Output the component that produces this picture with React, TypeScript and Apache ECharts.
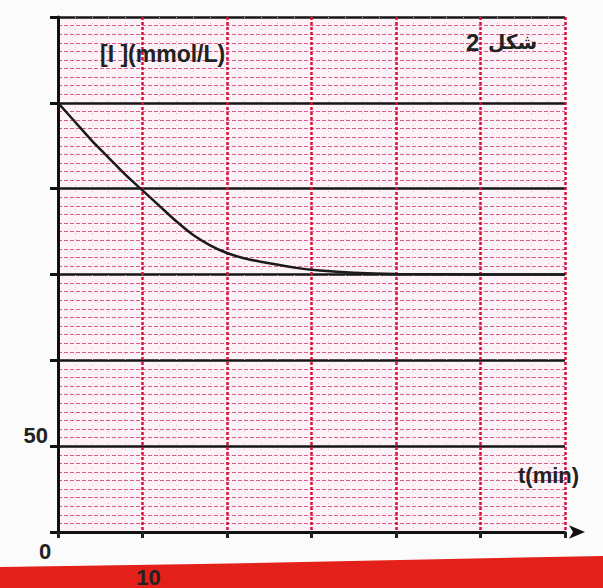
import React, { useEffect, useRef } from "react";
import * as echarts from "echarts";

const times = [0, 2, 4, 6, 8, 10, 12, 14, 16, 18, 20, 22, 25, 28, 31, 35, 40, 50, 60];
const conc = [250, 239, 228, 218, 208, 199, 190, 181, 173, 167, 162.5, 159.5, 156.5, 154, 152.3, 151, 150.3, 150, 150];
const yLabels: Record<number, string> = { 50: "50" };
const xLabels: Record<number, string> = { 0: "0", 10: "10" };
const yTitle = "[I ](mmol/L)";
const xTitle = "t(min)";
const figNumber = "2";
const figWord = "شكل";

export default function App() {
  const ref = useRef<HTMLDivElement>(null);
  useEffect(() => {
    document.body.style.margin = "0";
    const chart = echarts.init(ref.current!, null, { renderer: "svg" });
    chart.setOption({
      animation: false,
      backgroundColor: "#fbfbfb",
      grid: {
        left: 58,
        right: 38,
        top: 17,
        bottom: 55,
        show: true,
        backgroundColor: "#fdf2f6",
        borderWidth: 0,
      },
      xAxis: {
        type: "value",
        min: 0,
        max: 60,
        interval: 10,
        axisLine: {
          show: true,
          lineStyle: { color: "#111", width: 3 },
          symbol: ["none", "arrow"],
          symbolSize: [10, 16],
          symbolOffset: [0, 20],
        },
        axisTick: { show: true, length: 6, inside: false, lineStyle: { color: "#222", width: 3 } },
        axisLabel: {
          formatter: (v: number) => (v === 0 ? "{a|" + xLabels[0] + "}" : xLabels[v] ? "{b|" + xLabels[v] + "}" : ""),
          rich: {
            a: { fontSize: 22, fontFamily: "Liberation Sans", fontWeight: "bold", color: "#222", padding: [0, 26, 0, 0] },
            b: { fontSize: 22, fontFamily: "Liberation Sans", fontWeight: "bold", color: "#222", padding: [26, 0, 0, 12] },
          },
          margin: 8,
        },
        splitLine: { show: true, lineStyle: { color: "#d6123c", width: 2.5, type: [3, 2] } },
        minorTick: { show: false, splitNumber: 5 },
        minorSplitLine: { show: true, lineStyle: { color: "#eab3cb", width: 1, type: [1, 5] } },
      },
      yAxis: {
        type: "value",
        min: 0,
        max: 300,
        interval: 50,
        axisLine: { show: true, onZero: false, lineStyle: { color: "#111", width: 3 } },
        axisTick: { show: true, length: 8, lineStyle: { color: "#111", width: 3 } },
        axisLabel: {
          formatter: (v: number) => yLabels[v] || "",
          fontSize: 22,
          fontFamily: "Liberation Sans",
          fontWeight: "bold",
          color: "#222",
          margin: 10,
          verticalAlign: "bottom",
        },
        splitLine: { show: true, lineStyle: { color: "#151515", width: 2.5 } },
        minorTick: { show: false, splitNumber: 10 },
        minorSplitLine: { show: true, lineStyle: { color: "#dc5a93", width: 1.2, type: [4, 2] } },
      },
      series: [
        {
          type: "line",
          data: times.map((t, i) => [t, conc[i]]),
          smooth: 0.3,
          showSymbol: false,
          lineStyle: { color: "#1a1a1a", width: 2.5 },
          z: 5,
        },
      ],
      graphic: [
        {
          type: "polygon",
          z: -10,
          shape: { points: [[0, 567], [200, 564], [400, 560], [603, 556], [603, 588], [0, 588]] },
          style: { fill: "#e32019" },
        },
        {
          type: "text",
          left: 100,
          top: 42,
          z: 10,
          style: { text: yTitle, fontSize: 23, fontFamily: "Liberation Sans", fontWeight: "bold", fill: "#222" },
        },
        {
          type: "text",
          left: 518,
          top: 464,
          z: 10,
          style: { text: xTitle, fontSize: 22, fontFamily: "Liberation Sans", fontWeight: "bold", fill: "#222" },
        },
        {
          type: "text",
          left: 466,
          top: 30,
          z: 10,
          style: { text: figNumber, fontSize: 24, fontFamily: "Liberation Sans", fontWeight: "bold", fill: "#222" },
        },
        {
          type: "text",
          left: 488,
          top: 32,
          z: 10,
          style: { text: figWord, fontSize: 20, fontFamily: "DejaVu Sans", fontWeight: "bold", fill: "#222" },
        },
      ],
    });
    return () => chart.dispose();
  }, []);
  return <div ref={ref} style={{ width: 603, height: 588 }} />;
}
